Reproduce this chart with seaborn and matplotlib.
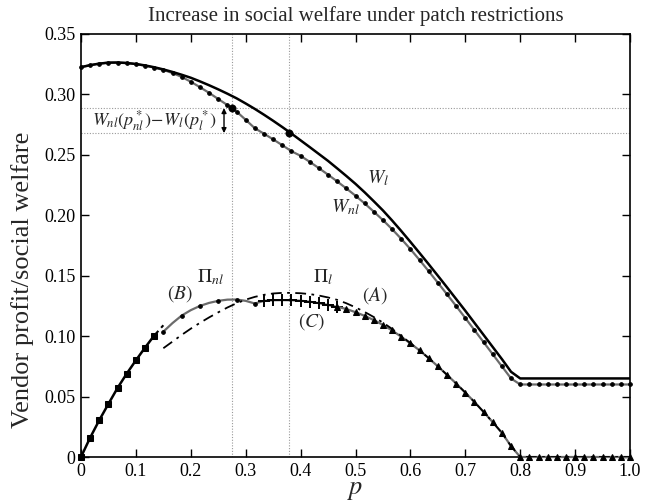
import numpy as np
import matplotlib
matplotlib.use("Agg")
import matplotlib.pyplot as plt
import seaborn as sns

# ---------------- data ----------------
p_grid = np.linspace(0, 1, 61)  # sample positions, step 1/60

W_l = [0.3226, 0.3242, 0.3255, 0.3263, 0.3264, 0.3260, 0.3252, 0.3240, 0.3225, 0.3207,
       0.3186, 0.3163, 0.3138, 0.3108, 0.3076, 0.3042, 0.3006, 0.2968, 0.2925, 0.2880,
       0.2832, 0.2782, 0.2730, 0.2676, 0.2620, 0.2564, 0.2507, 0.2450, 0.2388, 0.2325,
       0.2260, 0.2190, 0.2116, 0.2040, 0.1957, 0.1870, 0.1780, 0.1688, 0.1595, 0.1500,
       0.1404, 0.1307, 0.1210, 0.1110, 0.1010, 0.0910, 0.0810, 0.0705, 0.0650, 0.0650,
       0.0650, 0.0650, 0.0650, 0.0650, 0.0650, 0.0650, 0.0650, 0.0650, 0.0650, 0.0650,
       0.0650]

W_nl = [0.3226, 0.3242, 0.3255, 0.3263, 0.3264, 0.3260, 0.3251, 0.3238, 0.3222, 0.3203,
        0.3177, 0.3145, 0.3105, 0.3060, 0.3013, 0.2962, 0.2912, 0.2858, 0.2790, 0.2720,
        0.2675, 0.2628, 0.2580, 0.2530, 0.2492, 0.2442, 0.2390, 0.2336, 0.2280, 0.2222,
        0.2162, 0.2098, 0.2030, 0.1960, 0.1885, 0.1805, 0.1720, 0.1630, 0.1537, 0.1442,
        0.1346, 0.1249, 0.1150, 0.1050, 0.0950, 0.0850, 0.0750, 0.0650, 0.0600, 0.0600,
        0.0600, 0.0600, 0.0600, 0.0600, 0.0600, 0.0600, 0.0600, 0.0600, 0.0600, 0.0600,
        0.0600]

# common low-p profit branch (black, squares), k = 0..8, then dashed to k = 9
Pi_low = [0.0, 0.0160, 0.0305, 0.0440, 0.0572, 0.0690, 0.0800, 0.0905, 0.1005]
Pi_low_dash = [0.1005, 0.1090]

# Pi_l  (dash-dot, case A), k = 9..60
Pi_l = [0.0900, 0.0955, 0.1010, 0.1062, 0.1110, 0.1155, 0.1197, 0.1237, 0.1272, 0.1302,
        0.1325, 0.1342, 0.1353, 0.1358, 0.1358, 0.1355, 0.1348, 0.1336, 0.1320, 0.1300,
        0.1272, 0.1238, 0.1200, 0.1158, 0.1112, 0.1060, 0.1002, 0.0942, 0.0882, 0.0818,
        0.0750, 0.0680, 0.0608, 0.0533, 0.0455, 0.0373, 0.0288, 0.0200, 0.0090, 0.0,
        0.0, 0.0, 0.0, 0.0, 0.0, 0.0, 0.0, 0.0, 0.0, 0.0, 0.0, 0.0]

# Pi_nl branches
Pi_nl_B = [0.1037, 0.1108, 0.1170, 0.1215, 0.1250, 0.1275, 0.1292, 0.1302, 0.1303, 0.1292,
           0.1270, 0.1292]                                          # k = 9..20
Pi_nl_C = [0.1292, 0.1297, 0.1298, 0.1297, 0.1293, 0.1285, 0.1273, 0.1258, 0.1242]  # k = 20..28
Pi_nl_T = [0.1242, 0.1225, 0.1198, 0.1168, 0.1133, 0.1093, 0.1047, 0.0995, 0.0940, 0.0882,
           0.0818, 0.0750, 0.0680, 0.0608, 0.0533, 0.0455, 0.0373, 0.0288, 0.0200, 0.0090,
           0.0, 0.0, 0.0, 0.0, 0.0, 0.0, 0.0, 0.0, 0.0, 0.0, 0.0, 0.0, 0.0]  # k = 28..60

p_star = [0.2756, 0.379]
W_star = [0.2887, 0.268]

x_ticks = [0, 0.1, 0.2, 0.3, 0.4, 0.5, 0.6, 0.7, 0.8, 0.9, 1.0]
x_labels = ["0", "0.1", "0.2", "0.3", "0.4", "0.5", "0.6", "0.7", "0.8", "0.9", "1.0"]
y_ticks = [0, 0.05, 0.10, 0.15, 0.20, 0.25, 0.30, 0.35]
y_labels = ["0", "0.05", "0.10", "0.15", "0.20", "0.25", "0.30", "0.35"]

# ---------------- style ----------------
sns.set_style("ticks")
plt.rcParams["font.family"] = ["Liberation Serif", "DejaVu Serif"]
plt.rcParams["mathtext.fontset"] = "stix"

fig = plt.figure(figsize=(6.47, 5.03), dpi=100)
ax = fig.add_axes([81 / 647, 1 - 457 / 503, 549 / 647, 423 / 503])

GRAY = "#6b6b6b"

# reference lines
for px in p_star:
    ax.axvline(px, color="#999999", lw=0.8, ls=(0, (1, 1.5)), zorder=1)
for wy in W_star:
    ax.axhline(wy, color="#999999", lw=0.8, ls=(0, (1, 1.5)), zorder=1)

pg = list(p_grid)

# social welfare curves
sns.lineplot(x=pg, y=W_nl, ax=ax, color=GRAY, lw=1.6, marker="o", markersize=2.6,
             markerfacecolor="k", markeredgecolor="k", clip_on=False, zorder=3)
sns.lineplot(x=pg, y=W_l, ax=ax, color="k", lw=1.8, zorder=4)

# profit curves
sns.lineplot(x=pg[0:9], y=Pi_low, ax=ax, color="k", lw=1.8, marker="s", markersize=4,
             markerfacecolor="k", markeredgecolor="k", clip_on=False, zorder=5)
sns.lineplot(x=pg[8:10], y=Pi_low_dash, ax=ax, color="k", lw=1.5, ls=(0, (3, 2)), zorder=5)
sns.lineplot(x=pg[9:61], y=Pi_l, ax=ax, color="k", lw=1.3, ls=(0, (6, 3, 1.5, 3)), zorder=4)
sns.lineplot(x=pg[9:21], y=Pi_nl_B, ax=ax, color=GRAY, lw=1.6, marker="o", markersize=2.6,
             markerfacecolor="k", markeredgecolor="k", markevery=2, zorder=3)
sns.lineplot(x=pg[20:29], y=Pi_nl_C, ax=ax, color=GRAY, lw=1.6, marker="+", markersize=8,
             markeredgewidth=1.4, markeredgecolor="k", zorder=3)
sns.lineplot(x=pg[28:61], y=Pi_nl_T, ax=ax, color=GRAY, lw=1.6, marker="^", markersize=4,
             markerfacecolor="k", markeredgecolor="k", clip_on=False, zorder=3)

# optimum points
sns.scatterplot(x=p_star, y=W_star, ax=ax, color="k", s=28, edgecolor="k", zorder=6)

# difference arrow and label
ax.annotate("", xy=(0.2605, W_star[1]), xytext=(0.2605, W_star[0]),
            arrowprops=dict(arrowstyle="<|-|>", color="k", lw=1.0,
                            mutation_scale=7, shrinkA=0, shrinkB=0))
ax.text(0.2475, 0.2785, r"$W_{nl}(p^*_{nl})\!-\!W_l(p^*_l)$", fontsize=13,
        ha="right", va="center")

# curve labels
ax.text(0.541, 0.231, r"$W_l$", fontsize=14, ha="center", va="center")
ax.text(0.481, 0.207, r"$W_{nl}$", fontsize=14, ha="center", va="center")
ax.text(0.235, 0.149, r"$\Pi_{nl}$", fontsize=14, ha="center", va="center")
ax.text(0.441, 0.149, r"$\Pi_l$", fontsize=14, ha="center", va="center")
ax.text(0.180, 0.1355, r"$(B)$", fontsize=14, ha="center", va="center")
ax.text(0.5355, 0.134, r"$(A)$", fontsize=14, ha="center", va="center")
ax.text(0.420, 0.112, r"$(C)$", fontsize=14, ha="center", va="center")

# axes
ax.set_xlim(0, 1)
ax.set_ylim(0, 0.35)
ax.set_xticks(x_ticks)
ax.set_xticklabels(x_labels)
ax.set_yticks(y_ticks)
ax.set_yticklabels(y_labels)
ax.tick_params(direction="in", length=6, width=1.0, top=True, right=True,
               labelsize=13, colors="k", pad=4)
for s in ax.spines.values():
    s.set_visible(True)
    s.set_linewidth(1.2)
    s.set_color("k")
ax.set_xlabel(r"$p$", fontsize=19, labelpad=0)
ax.set_ylabel("Vendor profit/social welfare", fontsize=19)
ax.yaxis.set_label_coords(-0.085, 0.42)
ax.set_title("Increase in social welfare under patch restrictions", fontsize=15, pad=9)

fig.savefig("out.png", dpi=100)
